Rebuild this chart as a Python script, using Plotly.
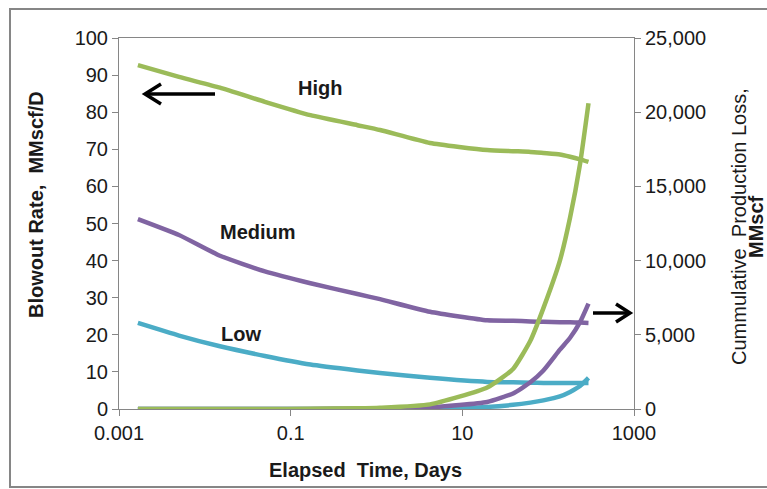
import plotly.graph_objects as go

# ---------------- data ----------------
time_days = [0.00166, 0.005, 0.015, 0.05, 0.17, 0.6, 1.1, 4.2, 19.5, 39, 62, 88, 137, 180, 235, 295]

rate_high = [92.7, 89.5, 86.6, 82.8, 79.2, 76.5, 75.2, 71.7, 69.8, 69.5, 69.3, 69.0, 68.6, 68.0, 67.3, 66.6]
rate_medium = [51.2, 46.9, 41.3, 37.1, 33.9, 31.0, 29.6, 26.2, 23.9, 23.8, 23.6, 23.5, 23.4, 23.4, 23.3, 23.2]
rate_low = [23.2, 19.8, 16.9, 14.3, 12.0, 10.4, 9.7, 8.4, 7.3, 7.2, 7.1, 7.0, 7.0, 7.0, 7.0, 7.0]

cum_high = [0, 0, 1, 4, 13, 46, 84, 310, 1450, 2700, 4600, 6800, 10000, 12900, 16500, 20600]
cum_medium = [0, 0, 0, 2, 6, 18, 35, 110, 470, 1050, 1800, 2600, 4000, 4800, 5850, 7100]
cum_low = [0, 0, 0, 0, 2, 5, 10, 35, 140, 280, 430, 580, 850, 1150, 1550, 2100]

x_ticks = [0.001, 0.1, 10, 1000]
x_ticktext = ["0.001", "0.1", "10", "1000"]

GREEN = "#9BBB59"
PURPLE = "#8064A2"
CYAN = "#4BACC6"
AXIS = "#868686"
FONT = "Liberation Sans, Arial, sans-serif"
TXT = "#1a1a1a"
FS = 20

W, H = 767, 489
L, R, T, B = 119, 634, 38, 409


def px(x):
    return (x - L) / (R - L)


def py(y):
    return (B - y) / (B - T)


fig = go.Figure()

line_style = dict(width=4.5, shape="spline", smoothing=0.5)
for vals, col in [(rate_high, GREEN), (rate_medium, PURPLE), (rate_low, CYAN)]:
    fig.add_trace(go.Scatter(x=time_days, y=vals, mode="lines",
                             line=dict(color=col, **line_style), yaxis="y", showlegend=False))
for vals, col in [(cum_low, CYAN), (cum_medium, PURPLE), (cum_high, GREEN)]:
    fig.add_trace(go.Scatter(x=time_days, y=vals, mode="lines",
                             line=dict(color=col, **line_style), yaxis="y2", showlegend=False))

axis_common = dict(showline=True, linecolor=AXIS, linewidth=1, ticks="outside",
                   ticklen=6, tickcolor=AXIS, showgrid=False, zeroline=False,
                   tickfont=dict(family=FONT, size=FS, color=TXT))

fig.update_layout(
    width=W, height=H,
    margin=dict(l=L, r=W - R, t=T, b=H - B),
    paper_bgcolor="white", plot_bgcolor="white",
    xaxis=dict(type="log", range=[-3, 3], tickvals=x_ticks, ticktext=x_ticktext,
               mirror=True, **axis_common),
    yaxis=dict(range=[0, 100], dtick=10, **axis_common),
    yaxis2=dict(range=[0, 25000], dtick=5000, tickformat=",d", overlaying="y",
                side="right", **axis_common),
)


def label(txt, x, y, angle=0, size=FS):
    fig.add_annotation(x=px(x), y=py(y), xref="paper", yref="paper",
                       text=txt, textangle=angle, showarrow=False,
                       xanchor="center", yanchor="middle", borderpad=0,
                       font=dict(family=FONT, size=size, color=TXT))


# labels on the curves
label("<b>High</b>", 320, 88)
label("<b>Medium</b>", 258, 232)
label("<b>Low</b>", 241, 334)

# axis titles
label("<b>Elapsed  Time, Days</b>", 365, 470)
label("<b>Blowout Rate,  MMscf/D</b>", 36, 205, angle=-90)
label("Cummulative  Production Loss,", 739, 227, angle=-90)
label("<b>MMscf</b>", 756, 227, angle=-90)

# outer border
fig.add_shape(type="rect", xref="paper", yref="paper", x0=px(10), x1=px(800),
              y0=py(487), y1=py(9), line=dict(color=AXIS, width=2))


def path(points):
    return "M " + " L ".join(f"{px(a)},{py(b)}" for a, b in points)


arrow_line = dict(color="black", width=3.5)
# left arrow
fig.add_shape(type="path", xref="paper", yref="paper",
              path=path([(215, 94), (145, 94)]), line=arrow_line)
fig.add_shape(type="path", xref="paper", yref="paper",
              path=path([(161, 84), (145, 94), (161, 104)]), line=arrow_line)
# right arrow
fig.add_shape(type="path", xref="paper", yref="paper",
              path=path([(593, 313), (629, 313)]), line=arrow_line)
fig.add_shape(type="path", xref="paper", yref="paper",
              path=path([(616, 304), (630, 313), (616, 322)]), line=arrow_line)

fig.write_html("out.html")
